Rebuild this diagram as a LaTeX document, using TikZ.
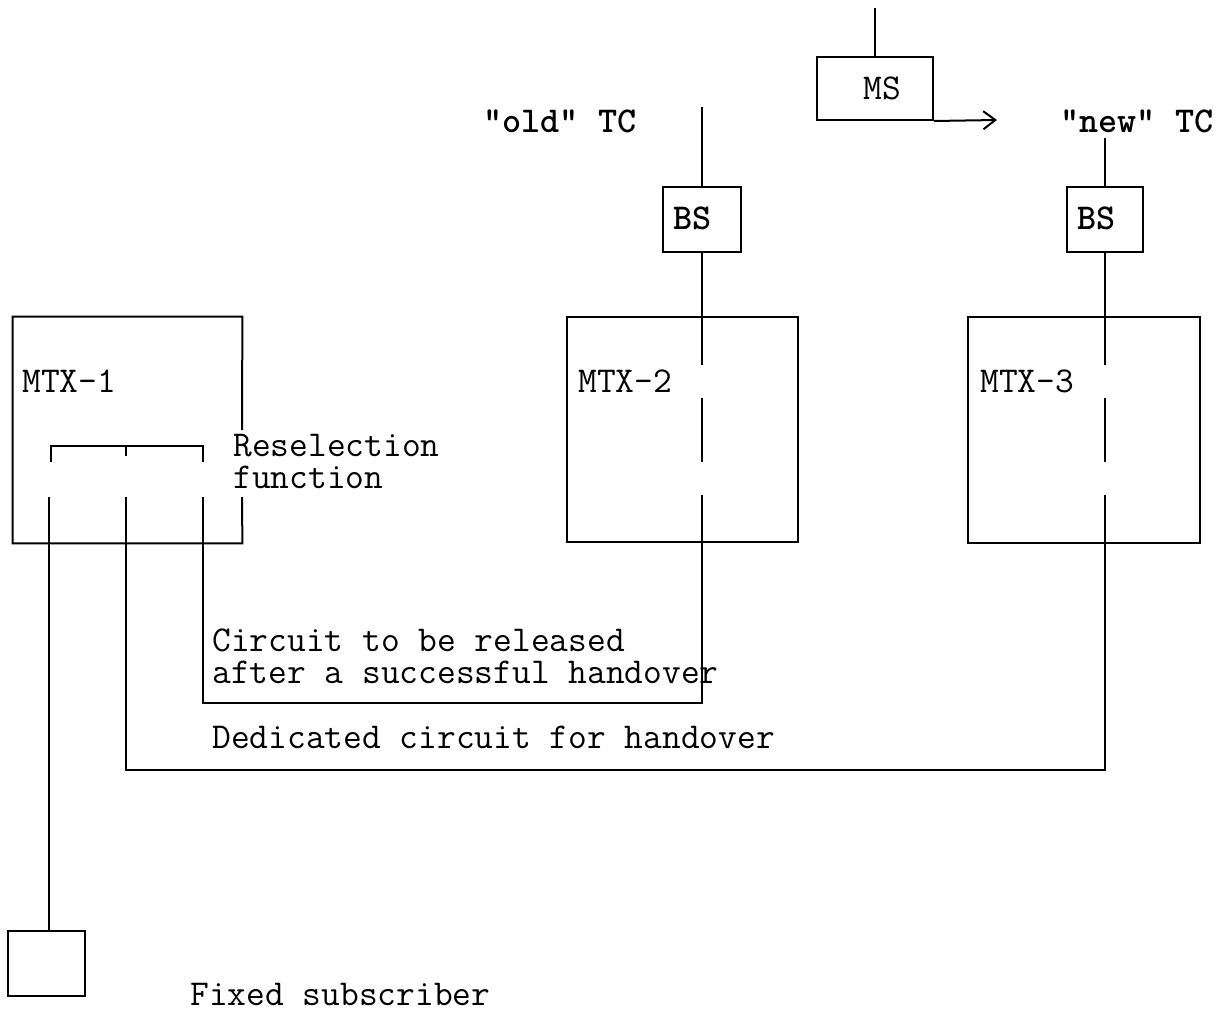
\documentclass[tikz,border=0pt]{standalone}
\usepackage{fontspec}
\usetikzlibrary{arrows.meta}
\begin{document}
\begin{tikzpicture}[x=0.5pt,y=-0.5pt,
  ln/.style={line width=1pt},
  boxn/.style={draw,line width=1pt,rectangle,inner sep=0pt},
  lbl/.style={anchor=base west,inner sep=0pt,font=\ttfamily\fontsize{18.2}{16}\selectfont},
  mlbl/.style={anchor=north west,inner sep=0pt,align=left,font=\ttfamily\fontsize{18.2}{16}\selectfont},
  blbl/.style={lbl,font=\ttfamily\bfseries\fontsize{18.2}{16}\selectfont}]
\useasboundingbox (0,0) rectangle (1220,1011);
% boxes
\node[boxn,minimum width=116pt*0.5,minimum height=63pt*0.5] (MS) at (875,88.5) {};
\node[boxn,minimum width=78pt*0.5,minimum height=65pt*0.5] (BS2) at (702,219.5) {};
\node[boxn,minimum width=76pt*0.5,minimum height=65pt*0.5] (BS3) at (1105,219.5) {};
\node[inner sep=0pt,minimum width=229pt*0.5,minimum height=226pt*0.5] (MTX1) at (127.5,430) {};
\node[boxn,minimum width=231pt*0.5,minimum height=225pt*0.5] (MTX2) at (682.5,429.5) {};
\node[boxn,minimum width=232pt*0.5,minimum height=226pt*0.5] (MTX3) at (1084,430) {};
\node[boxn,minimum width=77pt*0.5,minimum height=65pt*0.5] (FS) at (46.5,963.5) {};
% MTX-1 outline with gap on right side
\draw[ln] (242,430) -- (MTX1.north east) -- (MTX1.north west) -- (MTX1.south west) -- (MTX1.south east) -- (242,497);
% labels
\node[lbl] (msl) at (863,100) {MS};
\node[blbl] (oldtc) at (483,133) {"old" TC};
\node[blbl] (newtc) at (1060,133) {"new" TC};
\node[blbl] (bs2l) at (673,229) {BS};
\node[blbl] (bs3l) at (1077,229) {BS};
\node[lbl] (m1l) at (22,392) {MTX-1};
\node[lbl] (m2l) at (578,392) {MTX-2};
\node[lbl] (m3l) at (980,392) {MTX-3};
\node[mlbl] (res) at (233,434) {Reselection\\function};
\node[mlbl] (circ) at (212,628) {Circuit to be released\\after a successful handover};
\node[lbl] (ded) at (212,748) {Dedicated circuit for handover};
\node[lbl] (fsl) at (190,1005) {Fixed subscriber};
% coordinates
\coordinate (mstop) at (875,8);
\coordinate (mstip) at (997,120);
\coordinate (oldtop) at (702,107);
\coordinate (newtop) at (1105,138);
\coordinate (b1) at (51,446);
\coordinate (b2) at (126,446);
\coordinate (b3) at (203,446);
% MS
\draw[ln] (mstop) -- (MS.north);
\draw[ln,-{Straight Barb[length=6pt,width=9pt]}] (MS.south east) -- (mstip);
% old side
\draw[ln] (oldtop) -- (BS2.north);
\draw[ln] (BS2.south) -- (MTX2.north -| BS2.south) -- (702,365);
\draw[ln] (702,398) -- (702,462);
% new side
\draw[ln] (newtop) -- (BS3.north);
\draw[ln] (BS3.south) -- (MTX3.north -| BS3.south) -- (1105,365);
\draw[ln] (1105,398) -- (1105,462);
% reselection bracket
\draw[ln] (51,462) -- (b1) -- (b3) -- (203,462);
\draw[ln] (b2) -- (126,456);
% circuits
\draw[ln] (203,497) -- (203,703) -- (702,703) -- (702,495);
\draw[ln] (126,497) -- (126,770) -- (1105,770) -- (1105,495);
\draw[ln] (49,497) -- (FS.north -| 49,0);
\end{tikzpicture}
\end{document}
